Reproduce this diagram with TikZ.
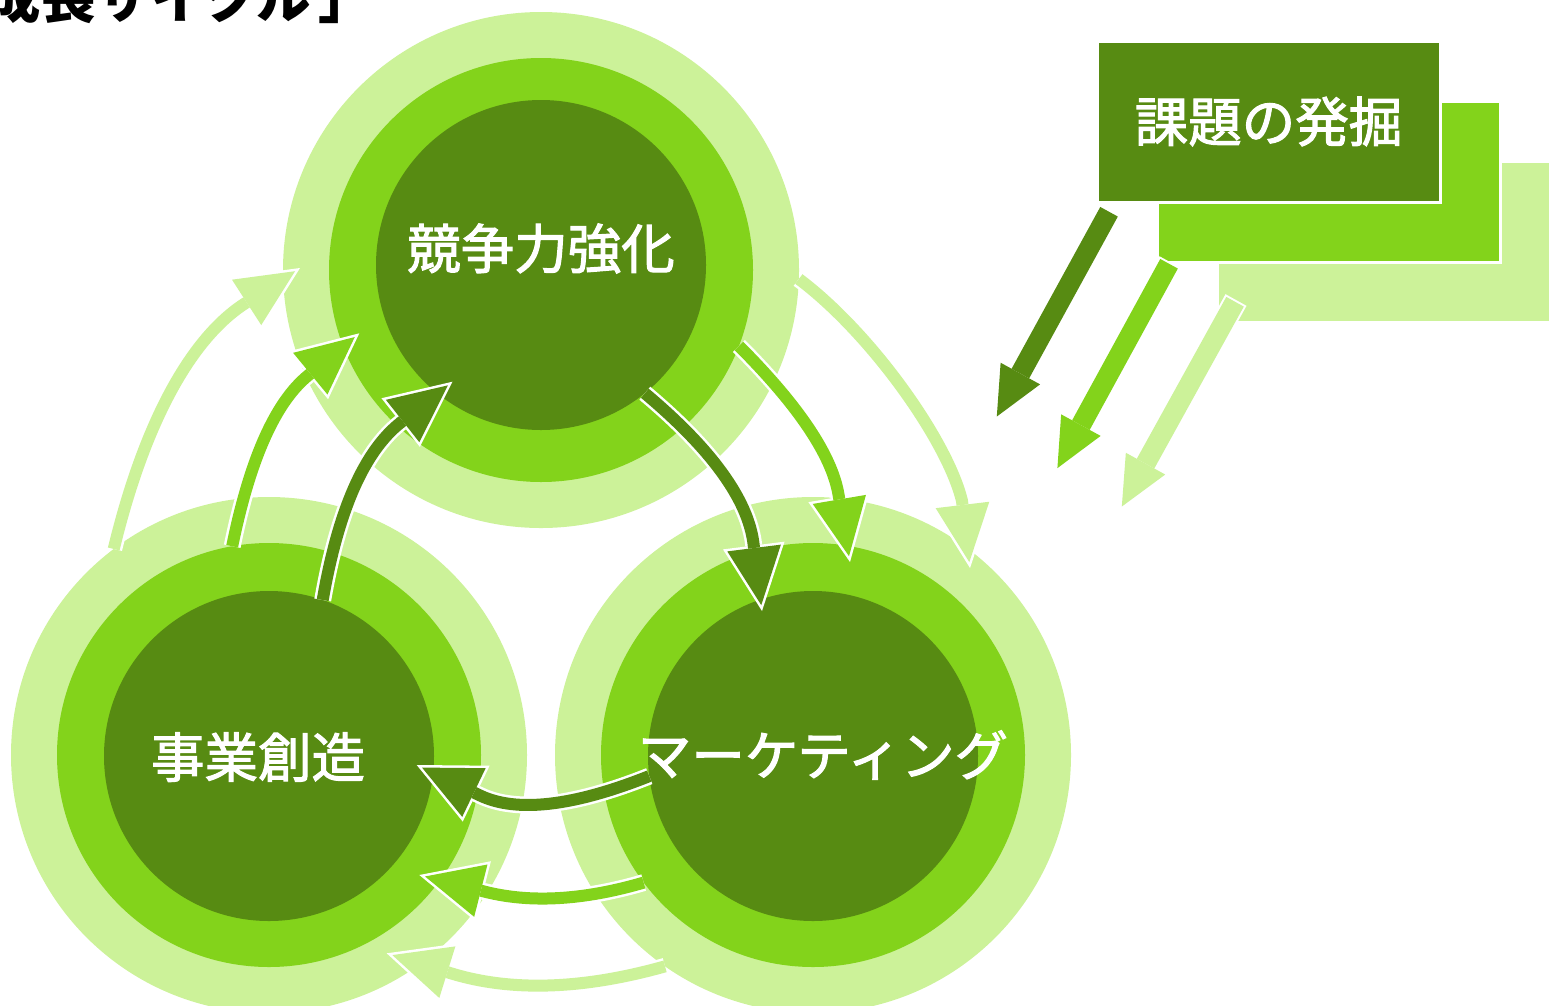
\documentclass[tikz,border=0pt]{standalone}
\usepackage{fontspec}
\newfontfamily\jp{Noto Sans CJK JP}
\newfontfamily\jpm{Noto Sans CJK JP}[FakeBold=2]
\usetikzlibrary{arrows.meta}
\definecolor{dk}{RGB}{87,139,18}
\definecolor{md}{RGB}{131,211,27}
\definecolor{lt}{RGB}{204,242,153}

\begin{document}
\begin{tikzpicture}[x=1pt, y=-1pt,
    ring/.style={circle, fill=#1, inner sep=0pt, outer sep=0pt},
    box/.style={fill=#1, draw=white, line width=3pt, minimum width=343pt, minimum height=161pt, inner sep=0pt, outer sep=0pt},
    cyc/.style={draw=#1, line width=12pt, line join=round, shorten >=5.9pt,
        -{Triangle[length=57.6pt, width=54pt, line width=0pt]},
        preaction={draw=white, line width=17pt, shorten >=0pt, -{Triangle[length=66pt, width=62pt, line width=0pt]}}},
    dig/.style={draw=#1, line width=20pt, shorten >=5pt, shorten <=2pt,
        -{Triangle[length=49pt, width=45pt, line width=0pt]},
        preaction={draw=white, line width=24pt, shorten >=0pt, shorten <=0pt, -{Triangle[length=56pt, width=51pt, line width=0pt]}}},
    lbl/.style={text=white, inner sep=0pt, font={\jpm\fontsize{53.5}{60}\selectfont}}]
    \useasboundingbox (0,0) rectangle (1549,1005);
    \clip (0,0) rectangle (1549,1005);

    % three rings
    \node[ring=lt, minimum size=516pt] (cmp3) at (541,270) {};
    \node[ring=md, minimum size=424pt] (cmp2) at (541,270) {};
    \node[ring=dk, minimum size=330pt] (cmp1) at (541,265) {};
    \node[ring=lt, minimum size=516pt] (biz3) at (269,755) {};
    \node[ring=md, minimum size=424pt] (biz2) at (269,755) {};
    \node[ring=dk, minimum size=330pt] (biz1) at (269,756) {};
    \node[ring=lt, minimum size=516pt] (mkt3) at (813,755) {};
    \node[ring=md, minimum size=424pt] (mkt2) at (813,755) {};
    \node[ring=dk, minimum size=330pt] (mkt1) at (813,756) {};

    % stacked boxes
    \node[box=lt] (prob3) at (1388.5,241.5) {};
    \node[box=md] (prob2) at (1328.5,181.5) {};
    \node[box=dk, lbl] (prob1) at (1268.5,121.5) {課題の発掘};

    \coordinate (dig1) at (994.4,420.9);
    \coordinate (dig2) at (1055,472.5);
    \coordinate (dig3) at (1119.4,510.9);
    \draw[dig=dk] ([shift={(13,8)}]prob1.south west) -- (dig1);
    \draw[dig=md] ([shift={(13,0)}]prob2.south west) -- (dig2);
    \draw[dig=lt] ([shift={(19,-22)}]prob3.south west) -- (dig3);

    % arrow tips of the cycle
    \coordinate (toMkt1) at (762,611);
    \coordinate (toMkt2) at (850,562);
    \coordinate (toMkt3) at (970,568);
    \coordinate (toCmp1) at (452.5,381.7);
    \coordinate (toCmp2) at (359.3,333.3);
    \coordinate (toCmp3) at (300,268);
    \coordinate (toBiz1) at (416.7,765);
    \coordinate (toBiz2) at (419.3,875);
    \coordinate (toBiz3) at (386.7,953.3);

    \draw[cyc=lt] (cmp3.358) .. controls (872,334) and (948,442) .. (962,501) -- (toMkt3);
    \draw[cyc=md] (cmp2.339) .. controls (798.6,405.7) and (831.8,455.2) .. (838.5,494.5) -- (toMkt2);
    \draw[cyc=dk] (cmp1.309) .. controls (711.7,449.3) and (747.9,499.4) .. (753.5,543.5) -- (toMkt1);

    \draw[cyc=lt] (biz3.127) .. controls (143,428) and (188,341) .. (243.8,304.2) -- (toCmp3);
    \draw[cyc=md] (biz2.100) .. controls (249.9,459.5) and (275.1,402.7) .. (307.7,375.8) -- (toCmp2);
    \draw[cyc=dk] (biz1.71) .. controls (338.2,510.5) and (364.1,451.4) .. (400.5,422.7) -- (toCmp1);

    \draw[cyc=lt] (mkt3.235) .. controls (582.2,989.6) and (510.5,991.8) .. (450,973) -- (toBiz3);
    \draw[cyc=md] (mkt2.217) .. controls (583.4,900.2) and (530.4,903.2) .. (485,891.7) -- (toBiz2);
    \draw[cyc=dk] (mkt1.187) .. controls (572.8,806.5) and (516.3,812.9) .. (479.7,795.3) -- (toBiz1);

    \node[lbl] (cmp) at (541,248.5) {競争力強化};
    \node[lbl] (biz) at (258,757) {事業創造};
    \node[lbl] (mkt) at (823,755) {マーケティング};
    \node[anchor=base west, inner sep=0pt, font={\jp\bfseries\fontsize{54.5}{60}\selectfont}] (ttl) at (-13.5,18) {成長サイクル\kern8pt」};
\end{tikzpicture}
\end{document}
